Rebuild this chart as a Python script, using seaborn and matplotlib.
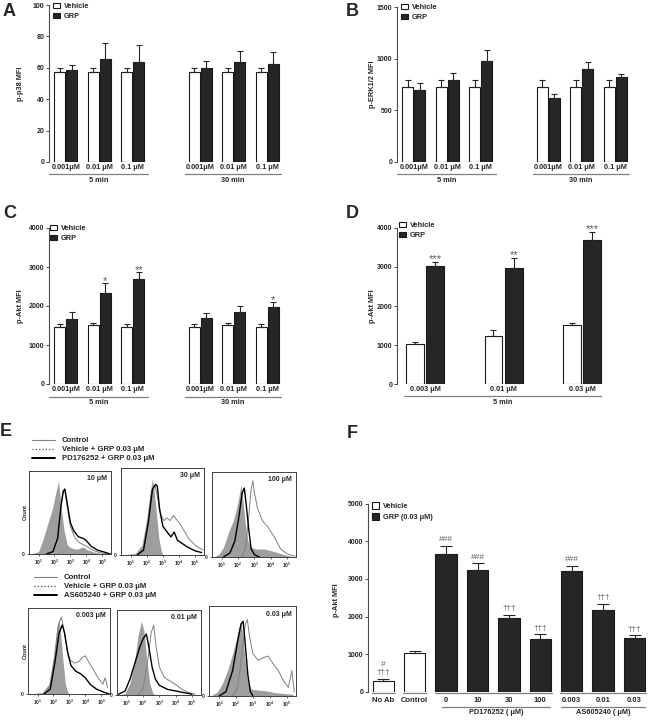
import matplotlib
matplotlib.use("Agg")
import matplotlib.pyplot as plt
import matplotlib.transforms as mtransforms
from matplotlib.patches import Patch
from matplotlib.lines import Line2D
import numpy as np
import pandas as pd
import seaborn as sns

# ---------------- data ----------------
times = ["5 min", "30 min"]
abc_conc = ["0.001\u03bcM", "0.01 \u03bcM", "0.1 \u03bcM"]
treatments = ["Vehicle", "GRP"]

a_vehicle = [57.5, 57.5, 57.5, 57.5, 57.5, 57.5]
a_vehicle_sem = [2.5, 2.5, 2.5, 2.5, 2.5, 2.5]
a_grp = [58.5, 65.8, 64.0, 60.0, 63.8, 62.4]
a_grp_sem = [3.5, 10.2, 10.3, 4.5, 6.9, 7.6]

b_vehicle = [722, 722, 722, 722, 722, 722]
b_vehicle_sem = [70, 70, 70, 70, 70, 70]
b_grp = [700, 793, 978, 618, 904, 825]
b_grp_sem = [61, 64, 105, 44, 64, 28]

c_vehicle = [1453, 1513, 1453, 1453, 1513, 1453]
c_vehicle_sem = [77, 51, 77, 77, 51, 77]
c_grp = [1658, 2342, 2692, 1701, 1846, 1983]
c_grp_sem = [180, 239, 180, 128, 145, 111]
c_sig = ["", "*", "**", "", "", "*"]

d_conc = ["0.003 \u03bcM", "0.01 \u03bcM", "0.03 \u03bcM"]
d_vehicle = [1030, 1238, 1521]
d_vehicle_sem = [45, 137, 43]
d_grp = [3015, 2965, 3682]
d_grp_sem = [113, 265, 215]
d_sig = ["***", "**", "***"]

f_cats = ["No Ab", "Control", "0", "10", "30", "100", "0.003", "0.01", "0.03"]
f_treat = ["Vehicle", "Vehicle", "GRP", "GRP", "GRP", "GRP", "GRP", "GRP", "GRP"]
f_values = [292, 1035, 3671, 3247, 1973, 1390, 3210, 2186, 1424]
f_sem = [53, 36, 212, 167, 80, 140, 143, 159, 80]
f_sig = ["#\n\u2020\u2020\u2020", "", "###", "###", "\u2020\u2020\u2020", "\u2020\u2020\u2020",
         "###", "\u2020\u2020\u2020", "\u2020\u2020\u2020"]

# flow cytometry histograms (log10 fluorescence, relative count)
e_pd_labels = ["10 \u03bcM", "30 \u03bcM", "100 \u03bcM"]
e_as_labels = ["0.003 \u03bcM", "0.01 \u03bcM", "0.03 \u03bcM"]

e_pd10_ctrl = [(0.5, 0), (1.0, 0.03), (1.3, 0.2), (1.6, 0.4), (1.9, 0.6), (2.1, 0.8), (2.25, 0.93),
               (2.35, 0.75), (2.45, 0.55), (2.6, 0.3), (2.8, 0.12), (3.0, 0.08), (3.4, 0.06),
               (3.8, 0.09), (4.0, 0.06), (4.4, 0.03), (4.8, 0.01), (5.5, 0)]
e_pd10_veh = [(1.5, 0), (1.9, 0.03), (2.2, 0.2), (2.4, 0.6), (2.55, 0.8), (2.65, 0.82), (2.8, 0.6),
              (3.0, 0.35), (3.3, 0.2), (3.6, 0.14), (4.0, 0.1), (4.4, 0.05), (4.8, 0.02), (5.3, 0)]
e_pd10_inh = [(1.5, 0), (1.9, 0.03), (2.2, 0.2), (2.4, 0.6), (2.55, 0.8), (2.65, 0.83), (2.8, 0.65),
              (3.0, 0.4), (3.2, 0.3), (3.5, 0.22), (3.8, 0.2), (4.0, 0.17), (4.3, 0.1), (4.7, 0.05),
              (5.2, 0.02), (5.5, 0)]

e_pd30_ctrl = [(0.5, 0), (1.3, 0.02), (1.7, 0.12), (2.0, 0.45), (2.2, 0.75), (2.35, 0.93), (2.45, 0.8),
               (2.6, 0.5), (2.75, 0.2), (2.9, 0.05), (3.0, 0)]
e_pd30_veh = [(1.4, 0), (1.8, 0.08), (2.1, 0.45), (2.3, 0.78), (2.5, 0.85), (2.65, 0.72), (2.85, 0.5),
              (3.05, 0.42), (3.25, 0.45), (3.45, 0.42), (3.65, 0.48), (3.85, 0.43), (4.05, 0.38),
              (4.3, 0.3), (4.6, 0.2), (5.0, 0.12), (5.3, 0.08), (5.5, 0.06)]
e_pd30_inh = [(1.4, 0), (1.8, 0.06), (2.1, 0.4), (2.35, 0.8), (2.55, 0.86), (2.65, 0.84), (2.8, 0.55),
              (3.0, 0.35), (3.3, 0.27), (3.5, 0.22), (3.7, 0.28), (3.9, 0.18), (4.2, 0.14), (4.5, 0.1),
              (5.0, 0.05), (5.4, 0.03)]

e_pd100_ctrl = [(0.5, 0), (0.8, 0.03), (1.1, 0.12), (1.4, 0.3), (1.7, 0.45), (1.9, 0.6), (2.05, 0.75),
                (2.17, 0.9), (2.3, 0.7), (2.45, 0.4), (2.6, 0.2), (2.8, 0.12), (3.1, 0.1), (3.6, 0.1),
                (4.0, 0.08), (4.5, 0.05), (5.0, 0.02), (5.5, 0)]
e_pd100_veh = [(2.2, 0), (2.45, 0.1), (2.65, 0.5), (2.8, 0.85), (2.9, 0.95), (3.0, 0.8), (3.2, 0.6),
               (3.5, 0.45), (3.8, 0.38), (4.0, 0.32), (4.3, 0.22), (4.6, 0.1), (5.0, 0.04), (5.5, 0.01)]
e_pd100_inh = [(1.1, 0), (1.5, 0.05), (1.8, 0.2), (2.05, 0.5), (2.25, 0.8), (2.38, 0.86), (2.5, 0.65),
               (2.65, 0.35), (2.8, 0.1), (3.0, 0.03), (3.3, 0)]

e_as003_ctrl = [(0.5, 0), (1.3, 0.02), (1.7, 0.12), (2.0, 0.45), (2.2, 0.8), (2.35, 0.92), (2.45, 0.75),
                (2.6, 0.4), (2.75, 0.12), (2.9, 0.02), (3.0, 0)]
e_as003_veh = [(1.4, 0), (1.8, 0.1), (2.1, 0.5), (2.3, 0.85), (2.5, 0.95), (2.65, 0.8), (2.85, 0.55),
               (3.05, 0.42), (3.3, 0.38), (3.6, 0.4), (3.8, 0.45), (4.0, 0.47), (4.2, 0.4), (4.5, 0.3),
               (4.8, 0.2), (5.1, 0.12), (5.25, 0.2), (5.4, 0.08)]
e_as003_inh = [(1.4, 0), (1.8, 0.06), (2.1, 0.4), (2.35, 0.75), (2.55, 0.85), (2.7, 0.75), (2.9, 0.5),
               (3.1, 0.35), (3.4, 0.28), (3.7, 0.25), (4.0, 0.2), (4.3, 0.12), (4.7, 0.06), (5.2, 0.02),
               (5.5, 0)]

e_as01_ctrl = [(0.5, 0), (0.9, 0.02), (1.2, 0.15), (1.5, 0.45), (1.7, 0.75), (1.9, 0.92), (2.05, 0.8),
               (2.2, 0.5), (2.4, 0.15), (2.6, 0.02), (2.8, 0)]
e_as01_veh = [(1.7, 0), (2.0, 0.08), (2.3, 0.45), (2.5, 0.78), (2.65, 0.87), (2.8, 0.6), (3.0, 0.35),
              (3.3, 0.22), (3.6, 0.18), (4.0, 0.13), (4.4, 0.07), (4.8, 0.03), (5.2, 0.01)]
e_as01_inh = [(0.5, 0.01), (0.9, 0.05), (1.2, 0.2), (1.5, 0.4), (1.8, 0.6), (2.0, 0.7), (2.2, 0.76),
              (2.35, 0.6), (2.55, 0.35), (2.75, 0.2), (3.0, 0.12), (3.5, 0.07), (4.0, 0.05), (4.5, 0.03),
              (5.0, 0.01)]

e_as03_ctrl = [(0.5, 0), (0.9, 0.05), (1.2, 0.15), (1.5, 0.3), (1.8, 0.5), (2.0, 0.65), (2.15, 0.8),
               (2.3, 0.87), (2.4, 0.7), (2.55, 0.4), (2.7, 0.15), (2.9, 0.08), (3.3, 0.07), (3.8, 0.06),
               (4.3, 0.04), (4.8, 0.03), (5.3, 0.02), (5.5, 0)]
e_as03_veh = [(1.8, 0), (2.1, 0.1), (2.35, 0.5), (2.55, 0.85), (2.67, 0.9), (2.8, 0.7), (3.0, 0.5),
              (3.3, 0.42), (3.6, 0.45), (3.9, 0.47), (4.2, 0.38), (4.5, 0.3), (4.8, 0.18), (5.1, 0.1),
              (5.3, 0.3), (5.45, 0.05)]
e_as03_inh = [(1.0, 0), (1.4, 0.05), (1.8, 0.3), (2.1, 0.65), (2.3, 0.85), (2.42, 0.88), (2.55, 0.6),
              (2.7, 0.25), (2.85, 0.05), (3.0, 0)]

# ---------------- style ----------------
W, H = 648, 720
sns.set_theme(style="white")
plt.rcParams["font.family"] = ["Liberation Sans", "DejaVu Sans"]
plt.rcParams["font.weight"] = "bold"
plt.rcParams["axes.labelweight"] = "bold"
plt.rcParams["mathtext.default"] = "regular"

PALETTE = {"Vehicle": "white", "GRP": "#262626"}
fig = plt.figure(figsize=(W / 100, H / 100), dpi=100)
PX = mtransforms.Affine2D().scale(1 / W, -1 / H).translate(0, 1) + fig.transFigure


def px_axes(x0, y0, x1, y1):
    return fig.add_axes([x0 / W, 1 - y1 / H, (x1 - x0) / W, (y1 - y0) / H])


def make_df(conds, veh, veh_sem, grp, grp_sem, sig=None):
    if sig is None:
        sig = [""] * len(conds)
    rows = [(c, "Vehicle", v, e, "") for c, v, e in zip(conds, veh, veh_sem)]
    rows += [(c, "GRP", v, e, s) for c, v, e, s in zip(conds, grp, grp_sem, sig)]
    return pd.DataFrame(rows, columns=["cond", "treat", "value", "err", "sig"])


def bar_panel(ax, df, order, ticklabels, width, gap, ylim, yticks, xlim, capsize,
              dodge=True, sig_fs=8, sig_off=-0.5, xfs=5.3, xpad=1.5):
    sns.barplot(data=df, x="cond", y="value", hue="treat", order=order, hue_order=treatments,
                palette=PALETTE, width=width, gap=gap, dodge=dodge, edgecolor="0.1",
                linewidth=0.8, errorbar=None, legend=False, ax=ax)
    for hue, cont in zip(treatments, ax.containers):
        for p in cont:
            h = p.get_height()
            if not np.isfinite(h):
                continue
            xc = p.get_x() + p.get_width() / 2
            cat = order[int(round(xc))]
            sel = df[(df.cond == cat) & (df.treat == hue)]
            if sel.empty:
                continue
            err = sel.err.iloc[0]
            s = sel.sig.iloc[0]
            ax.errorbar(xc, h, yerr=[[0], [err]], fmt="none", ecolor="0.15", elinewidth=0.8,
                        capsize=capsize, capthick=0.8, zorder=3)
            if s:
                ax.annotate(s, (xc, h + err), xytext=(0, sig_off), textcoords="offset points",
                            ha="center", va="baseline", fontsize=sig_fs, color="0.35",
                            fontweight="normal", linespacing=1.2, annotation_clip=False)
    ax.set_xlim(*xlim)
    ax.set_ylim(*ylim)
    ax.set_yticks(yticks)
    ax.set_yticklabels([str(t) for t in yticks])
    ax.set_xticks(range(len(order)))
    ax.set_xticklabels(ticklabels)
    ax.set_xlabel("")
    ax.set_ylabel("")
    sns.despine(ax=ax, bottom=True)
    ax.spines["left"].set_color("0.3")
    ax.spines["left"].set_linewidth(0.8)
    ax.tick_params(axis="y", length=2.5, width=0.7, color="0.3", labelsize=5, pad=1, left=True)
    ax.tick_params(axis="x", length=0, labelsize=xfs, pad=xpad)


def group_line(ax, x0, x1, ypx, label=None, label_ypx=None, fs=5.3):
    tr = mtransforms.blended_transform_factory(ax.transData, PX)
    ax.plot([x0, x1], [ypx, ypx], transform=tr, color="0.5", lw=0.9, clip_on=False)
    if label:
        ax.text((x0 + x1) / 2, label_ypx, label, transform=tr, ha="center", va="center",
                fontsize=fs, fontweight="bold")


def bar_legend(ax, x, y, labels=("Vehicle", "GRP"), fs=5.3, hl=0.95, hh=0.65, ls=0.35):
    handles = [Patch(facecolor=PALETTE["Vehicle"], edgecolor="0.1", linewidth=0.8, label=labels[0]),
               Patch(facecolor=PALETTE["GRP"], edgecolor="0.1", linewidth=0.8, label=labels[1])]
    ax.legend(handles=handles, loc="upper left", bbox_to_anchor=(x, y), bbox_transform=PX,
              frameon=False, fontsize=fs, handlelength=hl, handleheight=hh, handletextpad=0.5,
              labelspacing=ls, borderpad=0, borderaxespad=0)


def ylabel_px(x, y, text, fs=5.3):
    fig.text(x, y, text, transform=PX, rotation=90, ha="center", va="center", fontsize=fs,
             fontweight="bold")


def letter(x, y, s):
    fig.text(x, y, s, transform=PX, ha="left", va="center", fontsize=13, fontweight="bold")


# ---------------- A, B, C ----------------
conds = [f"{t}|{c}" for t in times for c in abc_conc]
order_abc = conds[:3] + ["gap"] + conds[3:]
ticks_abc = [c.split("|")[1] if c != "gap" else "" for c in order_abc]

df_a = make_df(conds, a_vehicle, a_vehicle_sem, a_grp, a_grp_sem)
df_b = make_df(conds, b_vehicle, b_vehicle_sem, b_grp, b_grp_sem)
df_c = make_df(conds, c_vehicle, c_vehicle_sem, c_grp, c_grp_sem, c_sig)

panels = [
    (df_a, (49, 5, 284, 162), (0, 100), [0, 20, 40, 60, 80, 100], "p-p38 MFI", 20, (53, 3), 174, 180.5),
    (df_b, (397, 7, 632, 162), (0, 1500), [0, 500, 1000, 1500], "p-ERK1/2 MFI", 373, (401, 4), 174, 180.5),
    (df_c, (49, 228, 284, 384), (0, 4000), [0, 1000, 2000, 3000, 4000], "p-Akt MFI", 20, (50, 225), 397, 402.5),
]
for df, rect, ylim, yticks, ylab, ylx, legxy, line_y, lab_y in panels:
    ax = px_axes(*rect)
    bar_panel(ax, df, order_abc, ticks_abc, 0.71, 0.08, ylim, yticks, (-0.5, 6.5), 2)
    group_line(ax, -0.5, 2.45, line_y, times[0], lab_y)
    group_line(ax, 3.55, 6.4, line_y, times[1], lab_y)
    ylabel_px(ylx, (rect[1] + rect[3]) / 2, ylab)
    bar_legend(ax, *legxy)

# ---------------- D ----------------
d_conds = [f"5 min|{c}" for c in d_conc]
df_d = make_df(d_conds, d_vehicle, d_vehicle_sem, d_grp, d_grp_sem, d_sig)
ax = px_axes(397, 227.7, 610, 384.3)
bar_panel(ax, df_d, d_conds, d_conc, 0.52, 0.14, (0, 4000), [0, 1000, 2000, 3000, 4000],
          (-0.357, 2.356), 2)
group_line(ax, -0.27, 2.24, 395.7, times[0], 403)
ylabel_px(373, 306, "p-Akt MFI")
bar_legend(ax, 399, 222)

# ---------------- F ----------------
df_f = pd.DataFrame({"cond": f_cats, "treat": f_treat, "value": f_values, "err": f_sem, "sig": f_sig})
ax = px_axes(368, 503.7, 648, 691.7)
bar_panel(ax, df_f, f_cats, f_cats, 0.68, 0, (0, 5000), [0, 1000, 2000, 3000, 4000, 5000],
          (-0.49, 8.43), 4, dodge=False, sig_fs=6, sig_off=3.3, xfs=5.5, xpad=4)
for a, b in [(0, 0), (1, 1), (2, 5), (6, 8)]:
    group_line(ax, a - 0.37, b + 0.37, 693.3)
group_line(ax, 1.86, 5.31, 706.7, "PD176252 ( \u03bcM)", 713, fs=5.3)
group_line(ax, 5.65, 8.33, 706.7, "AS605240 ( \u03bcM)", 713, fs=5.3)
ylabel_px(337, 600, "p-Akt MFI")
bar_legend(ax, 372, 502, labels=("Vehicle", "GRP (0.03 \u03bcM)"), fs=5.3, hl=0.95, hh=1.0, ls=0.45)

# ---------------- E ----------------
def flow_box(rect, ctrl, veh, inh, label, count):
    ax = px_axes(*rect)
    cx, cy = zip(*ctrl)
    ax.fill_between(cx, cy, color="0.62", lw=0, zorder=1)
    vx, vy = zip(*veh)
    sns.lineplot(x=list(vx), y=list(vy), ax=ax, color="0.5", lw=0.7, zorder=2)
    ix, iy = zip(*inh)
    sns.lineplot(x=list(ix), y=list(iy), ax=ax, color="black", lw=1.0, zorder=3)
    ax.set_xlim(0.4, 5.55)
    ax.set_ylim(0, 1.06)
    ax.set_xticks([1, 2, 3, 4, 5])
    ax.set_xticklabels([f"$10^{k}$" for k in range(1, 6)])
    ax.set_yticks([0])
    ax.set_yticklabels(["0"])
    ax.tick_params(labelsize=3.5, length=1.5, width=0.5, pad=1.5, bottom=True, left=True)
    for sp in ax.spines.values():
        sp.set_color("0.25")
        sp.set_linewidth(0.7)
    ax.text(0.95, 0.95, label, transform=ax.transAxes, ha="right", va="top", fontsize=5,
            fontweight="bold")
    if count:
        ylabel_px(25, (rect[1] + rect[3]) / 2, "Count", fs=4)


flow_box((29, 471, 111, 554), e_pd10_ctrl, e_pd10_veh, e_pd10_inh, e_pd_labels[0], True)
flow_box((121, 468, 204, 555), e_pd30_ctrl, e_pd30_veh, e_pd30_inh, e_pd_labels[1], False)
flow_box((212, 472, 296, 557), e_pd100_ctrl, e_pd100_veh, e_pd100_inh, e_pd_labels[2], False)
flow_box((28, 608, 110, 694), e_as003_ctrl, e_as003_veh, e_as003_inh, e_as_labels[0], True)
flow_box((117, 610, 201, 695), e_as01_ctrl, e_as01_veh, e_as01_inh, e_as_labels[1], False)
flow_box((209, 606, 296, 696), e_as03_ctrl, e_as03_veh, e_as03_inh, e_as_labels[2], False)


def flow_legend(x, y, inhibitor):
    handles = [Line2D([], [], color="0.5", lw=0.8),
               Line2D([], [], color="0.3", lw=0.9, ls=":"),
               Line2D([], [], color="black", lw=1.4)]
    labels = ["Control", "Vehicle + GRP 0.03 \u03bcM", f"{inhibitor} + GRP 0.03 \u03bcM"]
    fig.legend(handles, labels, loc="upper left", bbox_to_anchor=(x, y), bbox_transform=PX,
               frameon=False, fontsize=5.6, handlelength=2.9, handletextpad=0.9,
               labelspacing=0.2, borderpad=0, borderaxespad=0)


flow_legend(32, 437, "PD176252")
flow_legend(34, 574, "AS605240")

letter(3, 11, "A")
letter(346, 11, "B")
letter(3, 213, "C")
letter(346, 213, "D")
letter(0, 431, "E")
letter(347, 433, "F")

fig.savefig("out.png", dpi=100)
